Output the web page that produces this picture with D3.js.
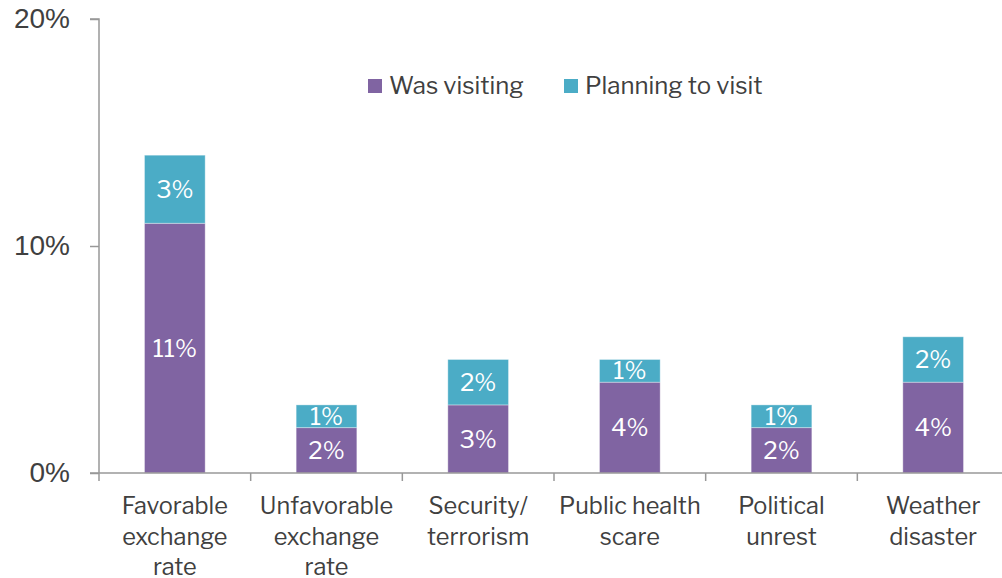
<!DOCTYPE html>
<html><head><meta charset="utf-8">
<script src="https://cdn.jsdelivr.net/npm/d3@7"></script>
<style>body{margin:0;background:#fff;}svg{display:block;font-family:"Libre Franklin","Lato","Open Sans",sans-serif;}</style>
</head><body><svg id="c" width="1002" height="578"></svg>
<script>
const categories = [["Favorable","exchange","rate"],["Unfavorable","exchange","rate"],["Security/","terrorism"],["Public health","scare"],["Political","unrest"],["Weather","disaster"]];
const seriesNames = ["Was visiting","Planning to visit"];
const wasVisiting = [11,2,3,4,2,4];
const planning = [3,1,2,1,1,2];
const yTicks = [0,10,20];
const colors = ["#8064A2","#4BACC6"];

const svg = d3.select("#c");
const keys = categories.map((c,i)=>i);
const x = d3.scaleBand().domain(keys).range([99,1009]).paddingInner(0.6).paddingOuter(0.3);
const y = d3.scaleLinear().domain([0,20]).range([473,19]);

const rows = keys.map(i=>({i, a:wasVisiting[i], b:planning[i]}));
const stack = d3.stack().keys(["a","b"])(rows);

const g = svg.append("g");
stack.forEach((layer,si)=>{
  g.selectAll(null).data(layer).enter().append("rect")
    .attr("x",d=>x(d.data.i)).attr("width",x.bandwidth())
    .attr("y",d=>y(d[1])).attr("height",d=>y(d[0])-y(d[1]))
    .attr("fill",colors[si]).attr("stroke","#ffffff").attr("stroke-opacity",0.35).attr("stroke-width",1);
  g.selectAll(null).data(layer).enter().append("text")
    .attr("x",d=>x(d.data.i)+x.bandwidth()/2).attr("y",d=>(y(d[0])+y(d[1]))/2)
    .attr("dy","0.36em").attr("text-anchor","middle").attr("fill","#fff")
    .attr("font-size",24).text(d=>(d[1]-d[0])+"%");
});

// y axis
const ya = svg.append("g").attr("transform","translate(99,0)")
  .call(d3.axisLeft(y).tickValues(yTicks).tickFormat(d=>d+"%").tickSize(9).tickPadding(20));
ya.select(".domain").attr("stroke","#989898").attr("stroke-width",1.5).attr("d","M-9,19H0V473");
ya.selectAll(".tick line").attr("stroke","#989898").attr("stroke-width",1.5);
ya.selectAll(".tick text").attr("font-size",28).attr("fill","#404040").attr("font-family","inherit");

// x axis
const xa = svg.append("g").attr("transform","translate(0,473)");
xa.append("line").attr("x1",90).attr("x2",1009).attr("y1",0).attr("y2",0).attr("stroke","#989898").attr("stroke-width",1.5);
const step = x.step();
xa.selectAll(null).data(d3.range(keys.length+1)).enter().append("line")
  .attr("x1",k=>99+k*step).attr("x2",k=>99+k*step).attr("y1",0).attr("y2",8)
  .attr("stroke","#989898").attr("stroke-width",1.5);
const lab = svg.append("g");
keys.forEach(i=>{
  const t = lab.append("text").attr("x",x(i)+x.bandwidth()/2).attr("y",514)
    .attr("text-anchor","middle").attr("fill","#404040").attr("font-size",23.5);
  categories[i].forEach((line,j)=>t.append("tspan").attr("x",x(i)+x.bandwidth()/2).attr("dy",j?30.5:0).text(line));
});

// legend
const lg = svg.append("g");
const lx = [368,564];
seriesNames.forEach((n,k)=>{
  lg.append("rect").attr("x",lx[k]).attr("y",79).attr("width",14).attr("height",14).attr("fill",colors[k]);
  lg.append("text").attr("x",lx[k]+21).attr("y",94).attr("font-size",24).attr("fill","#404040").text(n);
});
</script></body></html>
